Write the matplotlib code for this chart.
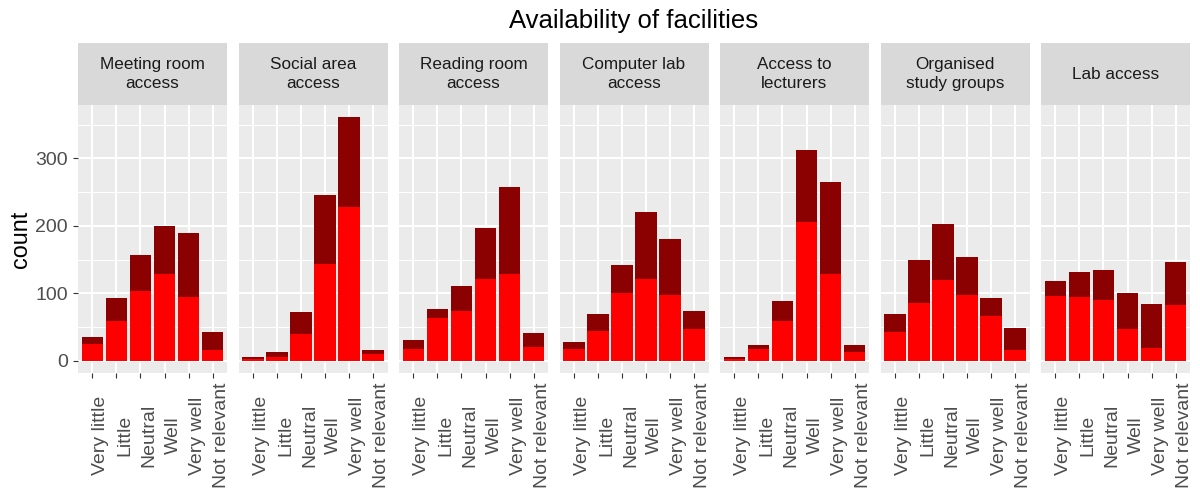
"""Availability of facilities: stacked counts per facility, one facet each."""

import matplotlib
matplotlib.use("Agg")
import matplotlib.pyplot as plt
import numpy as np

plt.rcParams["font.family"] = ["Liberation Sans", "DejaVu Sans"]

categories = ["Very little", "Little", "Neutral", "Well", "Very well", "Not relevant"]
facets = [
    "Meeting room\naccess",
    "Social area\naccess",
    "Reading room\naccess",
    "Computer lab\naccess",
    "Access to\nlecturers",
    "Organised\nstudy groups",
    "Lab access",
]
# bottom (red) part of each bar, per facet
red_counts = [
    [25, 59, 104, 128, 95, 16],
    [2, 6, 40, 144, 228, 10],
    [18, 64, 74, 121, 129, 21],
    [18, 44, 101, 121, 98, 47],
    [2, 18, 59, 206, 129, 13],
    [43, 86, 120, 98, 67, 16],
    [96, 95, 90, 47, 19, 83],
]
# top (dark red) part of each bar, per facet
darkred_counts = [
    [11, 34, 53, 72, 95, 27],
    [3, 7, 33, 102, 133, 6],
    [13, 13, 37, 76, 129, 20],
    [10, 26, 41, 100, 83, 27],
    [3, 6, 30, 107, 136, 11],
    [27, 64, 83, 56, 26, 33],
    [22, 37, 45, 54, 65, 64],
]
y_ticks = [0, 100, 200, 300]

W, H = 1200, 490
fig = plt.figure(figsize=(W / 100, H / 100), dpi=100)

# facet geometry in pixels
panel_left, panel_w, panel_step = 78, 149, 160.5
panel_top, panel_bottom = 105, 373
strip_top = 43

totals = np.array(red_counts) + np.array(darkred_counts)
ymax = totals.max()
ylim = (-0.05 * ymax, ymax * 1.05)

x = np.arange(len(categories))
for i, name in enumerate(facets):
    left = panel_left + i * panel_step
    ax = fig.add_axes([left / W, 1 - panel_bottom / H, panel_w / W,
                       (panel_bottom - panel_top) / H])
    ax.bar(x, red_counts[i], width=0.9, color="#FF0000", zorder=2)
    ax.bar(x, darkred_counts[i], bottom=red_counts[i], width=0.9,
           color="#8B0000", zorder=2)
    ax.set_xlim(-0.6, len(categories) - 0.4)
    ax.set_ylim(*ylim)
    ax.set_facecolor("#EBEBEB")
    for sp in ax.spines.values():
        sp.set_visible(False)

    ax.set_yticks(y_ticks)
    ax.set_yticks([50, 150, 250, 350], minor=True)
    ax.grid(which="major", color="white", linewidth=1.45, zorder=0)
    ax.grid(which="minor", axis="y", color="white", linewidth=0.72, zorder=0)
    ax.set_axisbelow(True)
    ax.tick_params(axis="y", which="minor", length=0)

    ax.set_xticks(x, categories)
    ax.tick_params(axis="x", length=3.6, width=0.8, color="#333333", pad=41.5,
                   labelsize=14, labelcolor="#4D4D4D", labelrotation=90)
    for lbl in ax.get_xticklabels():
        lbl.set_ha("left")
        lbl.set_va("center")

    if i == 0:
        ax.tick_params(axis="y", which="major", length=3.6, width=0.8,
                       color="#333333", pad=3.6, labelsize=14,
                       labelcolor="#4D4D4D")
    else:
        ax.tick_params(axis="y", which="major", length=0, labelleft=False)

    # facet strip
    sax = fig.add_axes([left / W, 1 - panel_top / H, panel_w / W,
                        (panel_top - strip_top) / H])
    sax.set_facecolor("#D9D9D9")
    sax.set_xticks([])
    sax.set_yticks([])
    for sp in sax.spines.values():
        sp.set_visible(False)
    sax.text(0.5, 0.5, name, ha="center", va="center", fontsize=12.3,
             color="#1A1A1A", linespacing=1.38, transform=sax.transAxes)

fig.text((panel_left + 6 * panel_step + panel_w + panel_left) / 2 / W, 1 - 28 / H,
         "Availability of facilities", ha="center", va="baseline", fontsize=18.5)
fig.text(20.5 / W, 1 - (panel_top + panel_bottom) / 2 / H, "count", rotation=90,
         ha="center", va="center", fontsize=16.8)

fig.savefig("out.png", dpi=100)
plt.close(fig)
